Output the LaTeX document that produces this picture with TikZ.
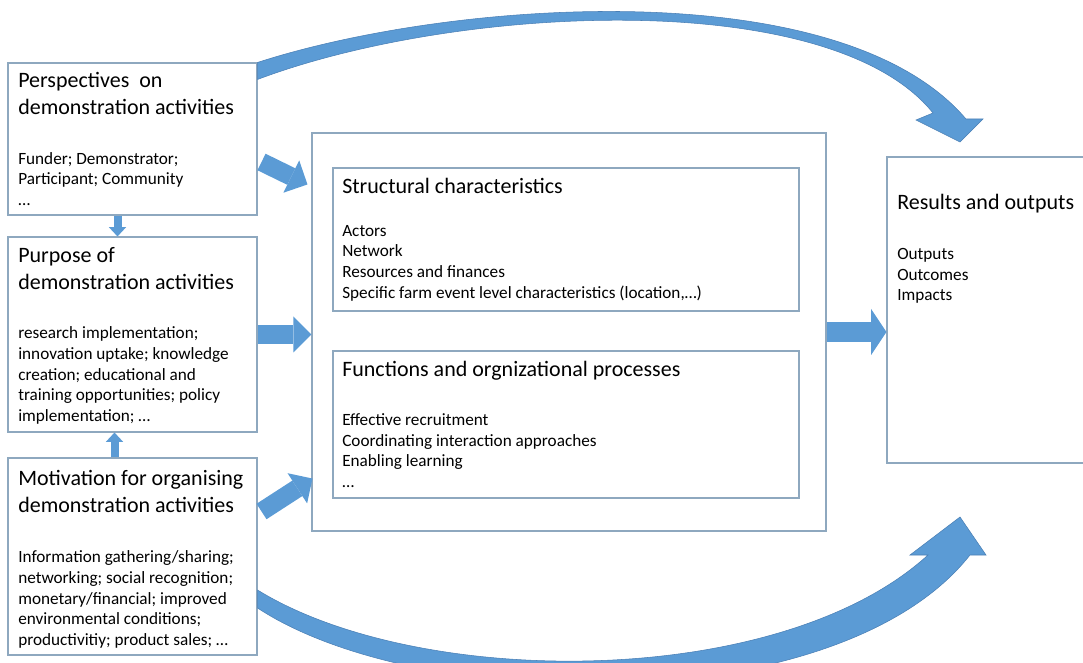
\documentclass[tikz,border=0pt]{standalone}
\usepackage{fontspec}
\setmainfont{Carlito}
\usepackage{tikz}
\usetikzlibrary{arrows.meta,fit}
\definecolor{shapeblue}{HTML}{5B9BD5}
\definecolor{shapeedge}{HTML}{4A7FB5}
\definecolor{frameline}{HTML}{8EA8BF}
\tikzset{
  % Text boxes
  box/.style={draw=frameline,line width=0.8pt,fill=white,inner sep=0pt},
  % Headings and item lists (placed by their top edge)
  hd/.style={anchor=north west,align=left,inner sep=0pt,
             font=\fontsize{16.5}{20.25}\selectfont,execute at begin node=\strut},
  items/.style={anchor=north west,align=left,inner sep=0pt,
                font=\fontsize{12.9}{15.5}\selectfont,execute at begin node=\strut},
  % Block arrows
  flow/.style={shapeblue,line width=13.8pt,
               -{Triangle[length=13.5pt,width=27pt,line width=0pt]}},
  flowbig/.style={shapeblue,line width=15pt,
                  -{Triangle[length=11.5pt,width=34.5pt,line width=0pt]}},
  flowsm/.style={shapeblue,line width=6pt,
                 -{Triangle[length=7pt,width=13pt,line width=0pt]}},
  curved/.style={fill=shapeblue,draw=shapeedge,line width=0.4pt}
}

\begin{document}
\begin{tikzpicture}[x=0.75pt,y=-0.75pt]
  \useasboundingbox (0,0) rectangle (1083,663);
  \clip (0,0) rectangle (1083,663);

  % --- Boxes ---
  \node[box,fit={(8,63) (257,215)}]     (persp)  {};
  \node[box,fit={(8,237) (257,432)}]    (purp)   {};
  \node[box,fit={(8,458) (257,655)}]    (motiv)  {};
  \node[box,fit={(312,133) (826,531)}]  (frame)  {};
  \node[box,fit={(333,168) (799,311)}]  (struct) {};
  \node[box,fit={(333,351) (799,498)}]  (func)   {};
  \node[box,fit={(887,157) (1095,463)}] (res)    {};

  % --- Left column ---
  \node[hd]    (persp-hd) at (18,72)  {Perspectives\ \ on\\demonstration activities};
  \node[items] (persp-it) at (18,152) {Funder; Demonstrator;\\Participant; Community\\…};

  \node[hd]    (purp-hd) at (18,247)    {Purpose of\\demonstration activities};
  \node[items] (purp-it) at (18,326.5)  {research implementation;\\innovation uptake; knowledge\\creation; educational and\\training opportunities; policy\\implementation; …};

  \node[hd]    (motiv-hd) at (18,470)   {Motivation for organising\\demonstration activities};
  \node[items] (motiv-it) at (18,550.5) {Information gathering/sharing;\\networking; social recognition;\\monetary/financial; improved\\environmental conditions;\\productivitiy; product sales; …};

  % --- Centre block ---
  \node[hd]    (struct-hd) at (342,174)   {Structural characteristics};
  \node[items] (struct-it) at (342,225)   {Actors\\Network\\Resources and finances\\Specific farm event level characteristics (location,…)};

  \node[hd]    (func-hd) at (342,357)   {Functions and orgnizational processes};
  \node[items] (func-it) at (342,413.5) {Effective recruitment\\Coordinating interaction approaches\\Enabling learning\\…};

  % --- Right column ---
  \node[hd]    (res-hd) at (897,190) {Results and outputs};
  \node[items] (res-it) at (897,248) {Outputs\\Outcomes\\Impacts};

  % --- Block arrows ---
  \draw[flowsm] ([shift={(-15,0)}]persp.south) -- ([shift={(-15,0)}]purp.north);
  \draw[flowsm] ([shift={(-18,0)}]motiv.north) -- ([shift={(-18,0)}]purp.south);
  \draw[flow] ([shift={(4,23)}]persp.east) -- ([shift={(-4,52)}]frame.north west);
  \draw[flow] (purp.east) -- (purp.east -| frame.west);
  \draw[flow] ([shift={(4,-45)}]motiv.east) -- ([shift={(1,-53)}]frame.south west);
  \draw[flowbig] (frame.east) -- (frame.east -| res.west);

  % --- Curved arrows round the centre block ---
  \path[curved] (persp.north east) .. controls (450,0) and (840,-29) .. (966,119)
        -- (983,119) -- (960,142) -- (916,120) -- (933,113)
        .. controls (830,-15) and (455,5) .. ([shift={(0,17)}]persp.north east) -- cycle;
  \path[curved] ([shift={(0,33.5)}]motiv.east) .. controls (420,690) and (780,690) .. (928,555)
        -- (910,555) -- (960,517) -- (986,555) -- (970,555)
        .. controls (840,720) and (420,715) .. ([shift={(0,51.5)}]motiv.east) -- cycle;
\end{tikzpicture}
\end{document}
